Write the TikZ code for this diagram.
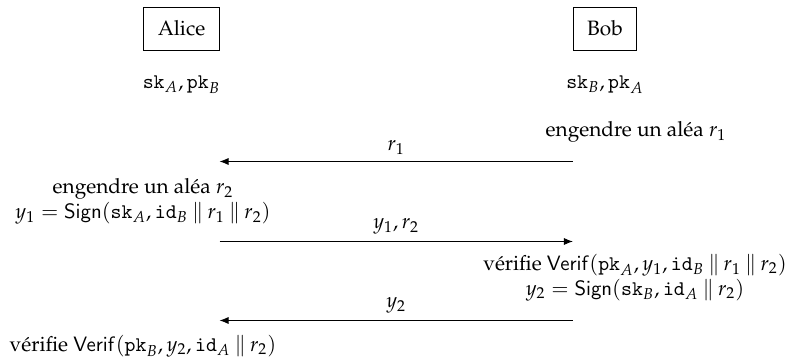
\documentclass[tikz,border=0pt]{standalone}
\usepackage[T1]{fontenc}
\usepackage{mathpazo}
\usetikzlibrary{positioning, arrows.meta}

\newcommand{\cat}{\mathbin{\|}}

\begin{document}
\begin{tikzpicture}[
        x=0.4808pt, y=-0.4808pt,
        node distance=8.7pt,
        % Styles
        party/.style={draw, thin, inner xsep=6.7pt, minimum height=20.7pt},
        action/.style={align=center},
        msg/.style={-{Latex[length=4.3pt, width=3.4pt]}, thin}
    ]
    \useasboundingbox (0,0) rectangle (790,358);

    % Parties and their keys
    \node[party] (alice) at (181.5,28.5) {Alice};
    \node[party] (bob) at (605,28.5) {Bob};
    \node[below=of alice] (keysA) {$\mathtt{sk}_A, \mathtt{pk}_B$};
    \node[below=of bob] (keysB) {$\mathtt{sk}_B, \mathtt{pk}_A$};

    % Local computations
    \node[action] (genR1) at (636,132) {engendre un al\'ea $r_1$};
    \node[action] (signA) at (143,201.5) {engendre un al\'ea $r_2$\\
        $y_1 = \mathsf{Sign}(\mathtt{sk}_A, \mathtt{id}_B \cat r_1 \cat r_2)$};
    \node[action] (signB) at (635,277.5) {v\'erifie $\mathsf{Verif}(\mathtt{pk}_A, y_1, \mathtt{id}_B \cat r_1 \cat r_2)$\\
        $y_2 = \mathsf{Sign}(\mathtt{sk}_B, \mathtt{id}_A \cat r_2)$};
    \node[action] (verifA) at (143,346) {v\'erifie $\mathsf{Verif}(\mathtt{pk}_B, y_2, \mathtt{id}_A \cat r_2)$};

    % Messages
    \coordinate (m1A) at (alice.east |- 0,161.5);
    \coordinate (m1B) at (bob.west |- 0,161.5);
    \coordinate (m2A) at (alice.east |- 0,241.5);
    \coordinate (m2B) at (bob.west |- 0,241.5);
    \coordinate (m3A) at (alice.east |- 0,320.5);
    \coordinate (m3B) at (bob.west |- 0,320.5);
    \draw[msg] (m1B) -- node[above] {$r_1$} (m1A);
    \draw[msg] (m2A) -- node[above] {$y_1, r_2$} (m2B);
    \draw[msg] (m3B) -- node[above] {$y_2$} (m3A);

\end{tikzpicture}
\end{document}
